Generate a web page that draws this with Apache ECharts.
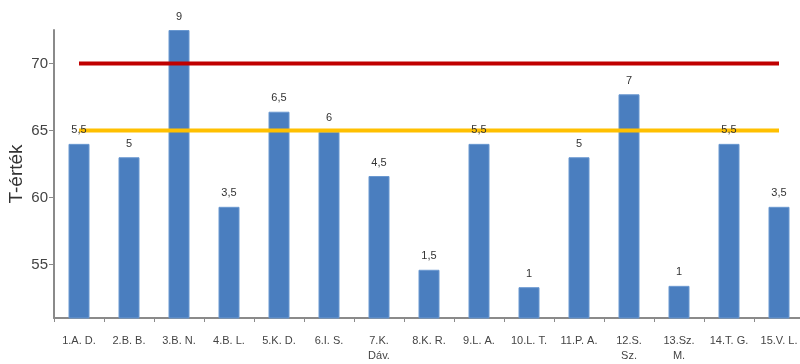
<!DOCTYPE html>
<html>
<head>
<meta charset="utf-8">
<script src="https://cdn.jsdelivr.net/npm/echarts@6/dist/echarts.min.js"></script>
<style>html,body{margin:0;padding:0;background:#fff;}#c{width:800px;height:364px;}</style>
</head>
<body>
<div id="c"></div>
<script>
const categories = ['1.A. D.','2.B. B.','3.B. N.','4.B. L.','5.K. D.','6.I. S.','7.K.\nDáv.','8.K. R.','9.L. A.','10.L. T.','11.P. A.','12.S.\nSz.','13.Sz.\nM.','14.T. G.','15.V. L.'];
const tValues = [64.0, 63.0, 72.5, 59.3, 66.4, 64.9, 61.6, 54.6, 64.0, 53.3, 63.0, 67.7, 53.4, 64.0, 59.3];
const scoreLabels = ['5,5','5','9','3,5','6,5','6','4,5','1,5','5,5','1','5','7','1','5,5','3,5'];
const redLevel = 70;
const yellowLevel = 65;
const yTicks = [55, 60, 65, 70];

const chart = echarts.init(document.getElementById('c'));
const axisGray = '#8a8a8a';
chart.setOption({
  animation: false,
  grid: { left: 54, width: 750, top: 30, bottom: 46, outerBoundsMode: 'none', containLabel: false },
  xAxis: {
    type: 'category',
    data: categories,
    axisLine: { lineStyle: { color: axisGray, width: 2 } },
    axisTick: { show: true, alignWithLabel: false, length: 4, lineStyle: { color: axisGray } },
    axisLabel: { color: '#444', fontSize: 11, fontFamily: 'Liberation Sans, Arial', margin: 15, interval: 0, lineHeight: 15 }
  },
  yAxis: {
    type: 'value',
    min: 51, max: 72.5,
    name: 'T-érték',
    nameLocation: 'middle',
    nameGap: 28,
    nameMoveOverlap: false,
    nameTextStyle: { fontSize: 19, color: '#333', fontFamily: 'Liberation Sans, Arial' },
    splitLine: { show: false },
    axisLine: { show: true, lineStyle: { color: axisGray, width: 2 } },
    axisTick: { show: true, length: 5, customValues: yTicks, lineStyle: { color: axisGray } },
    axisLabel: { customValues: yTicks, color: '#444', fontSize: 15, fontFamily: 'Liberation Sans, Arial', margin: 6 }
  },
  series: [
    {
      type: 'bar', data: tValues, barWidth: 21, z: 1,
      itemStyle: { color: '#4a7ebf', borderColor: '#6a98d0', borderWidth: 1 }
    },
    {
      type: 'line', data: categories.map(() => redLevel), z: 2, symbol: 'none',
      lineStyle: { color: '#c00000', width: 4 }
    },
    {
      type: 'line', data: categories.map(() => yellowLevel), z: 2, symbol: 'none',
      lineStyle: { color: '#ffc000', width: 4 }
    },
    {
      type: 'bar', data: tValues, barWidth: 21, barGap: '-100%', z: 3,
      itemStyle: { color: 'rgba(0,0,0,0)' },
      label: {
        show: true, position: 'top', distance: 8, color: '#333', fontSize: 11,
        fontFamily: 'Liberation Sans, Arial',
        formatter: p => scoreLabels[p.dataIndex]
      }
    }
  ]
});
</script>
</body>
</html>
